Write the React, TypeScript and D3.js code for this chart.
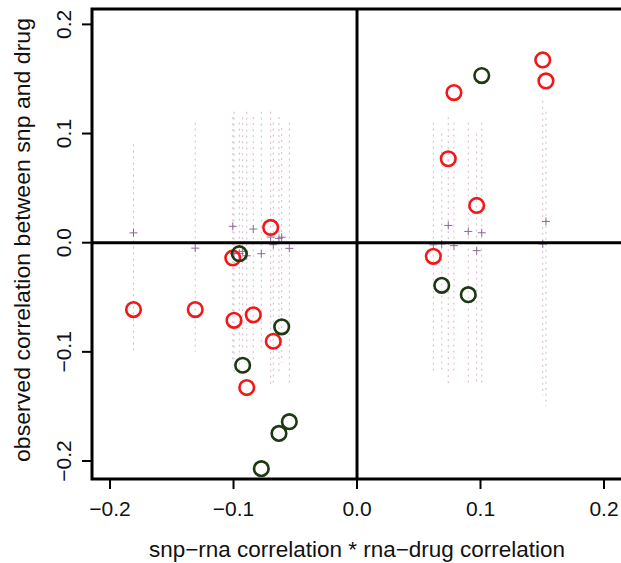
import React from "react";
import * as d3 from "d3";

// observed points (red = one group, green = other group)
const redX = [-0.181, -0.131, -0.0996, -0.084, -0.0678, -0.0893, -0.1006, -0.0699, 0.0618, 0.0739, 0.0969, 0.0785, 0.1504, 0.153];
const redY = [-0.0613, -0.0613, -0.0711, -0.0661, -0.0903, -0.1327, -0.014, 0.014, -0.0125, 0.0769, 0.0341, 0.1375, 0.1674, 0.1482];
const greenX = [-0.0953, -0.061, -0.0926, -0.0548, -0.0632, -0.0775, 0.101, 0.0686, 0.0901];
const greenY = [-0.0101, -0.0771, -0.1123, -0.164, -0.1747, -0.207, 0.1531, -0.0391, -0.0476];

// null distributions: column x, centre (cross), low and high ends of dotted spread
const nullX = [-0.181, -0.131, -0.0996, -0.084, -0.0678, -0.0893, -0.1006, -0.0699, -0.0953, -0.061, -0.0926, -0.0548, -0.0632, -0.0775, 0.0618, 0.0739, 0.0969, 0.0785, 0.1504, 0.153, 0.101, 0.0686, 0.0901];
const nullMid = [0.009, -0.005, -0.01, 0.0125, -0.0018, -0.012, 0.015, 0.0052, -0.01, 0.005, -0.008, -0.0052, 0.004, -0.0101, -0.002, 0.0158, -0.0073, -0.0027, -0.0012, 0.0195, 0.0091, -0.0012, 0.0103];
const nullLo = [-0.1, -0.1, -0.12, -0.11, -0.13, -0.1, -0.11, -0.13, -0.12, -0.11, -0.1, -0.13, -0.12, -0.1, -0.12, -0.13, -0.13, -0.12, -0.14, -0.15, -0.13, -0.12, -0.13];
const nullHi = [0.09, 0.11, 0.12, 0.115, 0.11, 0.12, 0.115, 0.12, 0.11, 0.105, 0.115, 0.11, 0.115, 0.12, 0.11, 0.115, 0.1, 0.11, 0.13, 0.12, 0.11, 0.1, 0.11];

const xTicks = [-0.2, -0.1, 0.0, 0.1, 0.2];
const yTicks = [-0.2, -0.1, 0.0, 0.1, 0.2];

const xTitle = "snp\u2212rna correlation * rna\u2212drug correlation";
const yTitle = "observed correlation between snp and drug";

export default function App() {
  const W = 621, H = 563;
  const left = 92, right = 624, top = 9, bottom = 479;
  const x = d3.scaleLinear().domain([-0.2146, 0.2162]).range([left, right]);
  const y = d3.scaleLinear().domain([-0.2165, 0.2141]).range([bottom, top]);
  const font = "'Liberation Sans', Arial, Helvetica, sans-serif";
  const fmt = d3.format(".1f");
  const lab = (v: number) => fmt(v).replace("-", "\u2212");

  return (
    <svg width={W} height={H} style={{ position: "absolute", left: 0, top: 0, background: "#fff" }}>
      {/* null distributions */}
      {nullX.map((nx, i) => (
        <g key={"n" + i}>
          <line x1={x(nx)} x2={x(nx)} y1={y(nullHi[i])} y2={y(nullLo[i])}
            stroke="#c9a3bd" strokeWidth={1} strokeDasharray="2,4" opacity={0.75} />
          <line x1={x(nx) - 4} x2={x(nx) + 4} y1={y(nullMid[i])} y2={y(nullMid[i])} stroke="#8e6a92" strokeWidth={1} />
          <line x1={x(nx)} x2={x(nx)} y1={y(nullMid[i]) - 4} y2={y(nullMid[i]) + 4} stroke="#8e6a92" strokeWidth={1} />
        </g>
      ))}
      {/* zero lines */}
      <line x1={left} x2={right} y1={y(0)} y2={y(0)} stroke="#000" strokeWidth={3} />
      <line x1={x(0)} x2={x(0)} y1={top} y2={bottom} stroke="#000" strokeWidth={3} />
      {/* points */}
      {redX.map((rx, i) => (
        <circle key={"r" + i} cx={x(rx)} cy={y(redY[i])} r={7.3} fill="none" stroke="#f01818" strokeWidth={2.6} />
      ))}
      {greenX.map((gx, i) => (
        <circle key={"g" + i} cx={x(gx)} cy={y(greenY[i])} r={7.3} fill="none" stroke="#1e3812" strokeWidth={2.6} />
      ))}
      {/* box */}
      <rect x={left} y={top} width={right - left} height={bottom - top} fill="none" stroke="#000" strokeWidth={3} />
      {/* x axis */}
      {xTicks.map((t) => (
        <g key={"xt" + t}>
          <line x1={x(t)} x2={x(t)} y1={bottom} y2={bottom + 10} stroke="#000" strokeWidth={2} />
          <text x={x(t)} y={516} textAnchor="middle" fontFamily={font} fontSize={21} fill="#111">{lab(t)}</text>
        </g>
      ))}
      {/* y axis */}
      {yTicks.map((t) => (
        <g key={"yt" + t}>
          <line x1={left - 10} x2={left} y1={y(t)} y2={y(t)} stroke="#000" strokeWidth={2} />
          <text transform={`translate(71,${y(t)}) rotate(-90)`} textAnchor="middle" fontFamily={font} fontSize={21} fill="#111">{lab(t)}</text>
        </g>
      ))}
      <text x={357} y={557} textAnchor="middle" fontFamily={font} fontSize={22} fill="#111" textLength={416} lengthAdjust="spacingAndGlyphs">{xTitle}</text>
      <text transform={`translate(30,${240}) rotate(-90)`} textAnchor="middle" fontFamily={font} fontSize={22} fill="#111" textLength={444} lengthAdjust="spacingAndGlyphs">{yTitle}</text>
    </svg>
  );
}
